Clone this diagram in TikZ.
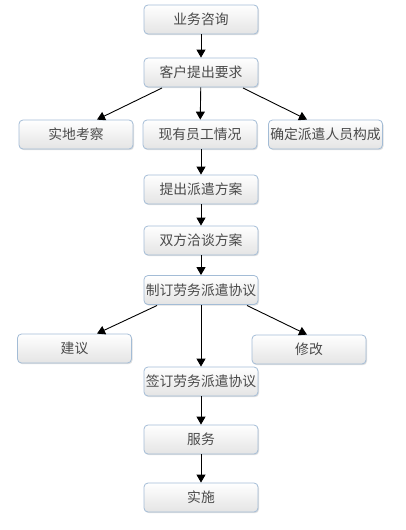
\documentclass[tikz,border=0pt]{standalone}
\usepackage{fontspec}
\newfontfamily\cjk{Noto Sans CJK SC}
\usetikzlibrary{arrows.meta,shadows}
\definecolor{bordc}{HTML}{A3BCD6}
\definecolor{txtc}{HTML}{4A4A4A}
\definecolor{botc}{HTML}{E4E4E4}
\tikzset{
  box/.style={draw=bordc, line width=0.8pt, rounded corners=4pt, top color=white, bottom color=botc,
    minimum width=114pt, minimum height=29pt, inner sep=0pt, text=txtc,
    font=\cjk\fontsize{13.8}{15}\selectfont,
    drop shadow={shadow xshift=1pt, shadow yshift=-1.2pt, opacity=0.25, fill=gray}},
  arr/.style={-{Triangle[length=8pt,width=9pt]}, line width=0.9pt, black}
}
\begin{document}
\begin{tikzpicture}[x=1pt,y=-1pt]
\useasboundingbox (0,0) rectangle (405,530);
\node[box] (a) at (201,19.5) {业务咨询};
\node[box] (b) at (201,72.5) {客户提出要求};
\node[box] (c1) at (76,134.5) {实地考察};
\node[box] (c2) at (200,134.5) {现有员工情况};
\node[box] (c3) at (325.5,134.5) {确定派遣人员构成};
\node[box] (d) at (201,189.5) {提出派遣方案};
\node[box] (e) at (201,240.5) {双方洽谈方案};
\node[box] (f) at (201,290) {制订劳务派遣协议};
\node[box] (g1) at (74.5,348.5) {建议};
\node[box] (g2) at (309,349.5) {修改};
\node[box] (h) at (201,381.5) {签订劳务派遣协议};
\node[box] (i) at (201,439.5) {服务};
\node[box] (j) at (201,497.5) {实施};
\coordinate (bL) at (162,88);
\coordinate (bR) at (243,88);
\coordinate (fL) at (157,305.5);
\coordinate (fR) at (247,305.5);
\draw[arr] (a) -- (b);
\draw[arr] (bL) -- (c1.north -| 97,0);
\draw[arr] (b) -- (c2);
\draw[arr] (bR) -- (c3.north -| 307,0);
\draw[arr] (c2.south -| d.north) -- (d);
\draw[arr] (d) -- (e);
\draw[arr] (e) -- (f);
\draw[arr] (fL) -- (g1.north -| 97,0);
\draw[arr] (fR) -- (g2.north -| 307,0);
\draw[arr] (f) -- (h);
\draw[arr] (h) -- (i);
\draw[arr] (i) -- (j);
\end{tikzpicture}
\end{document}
